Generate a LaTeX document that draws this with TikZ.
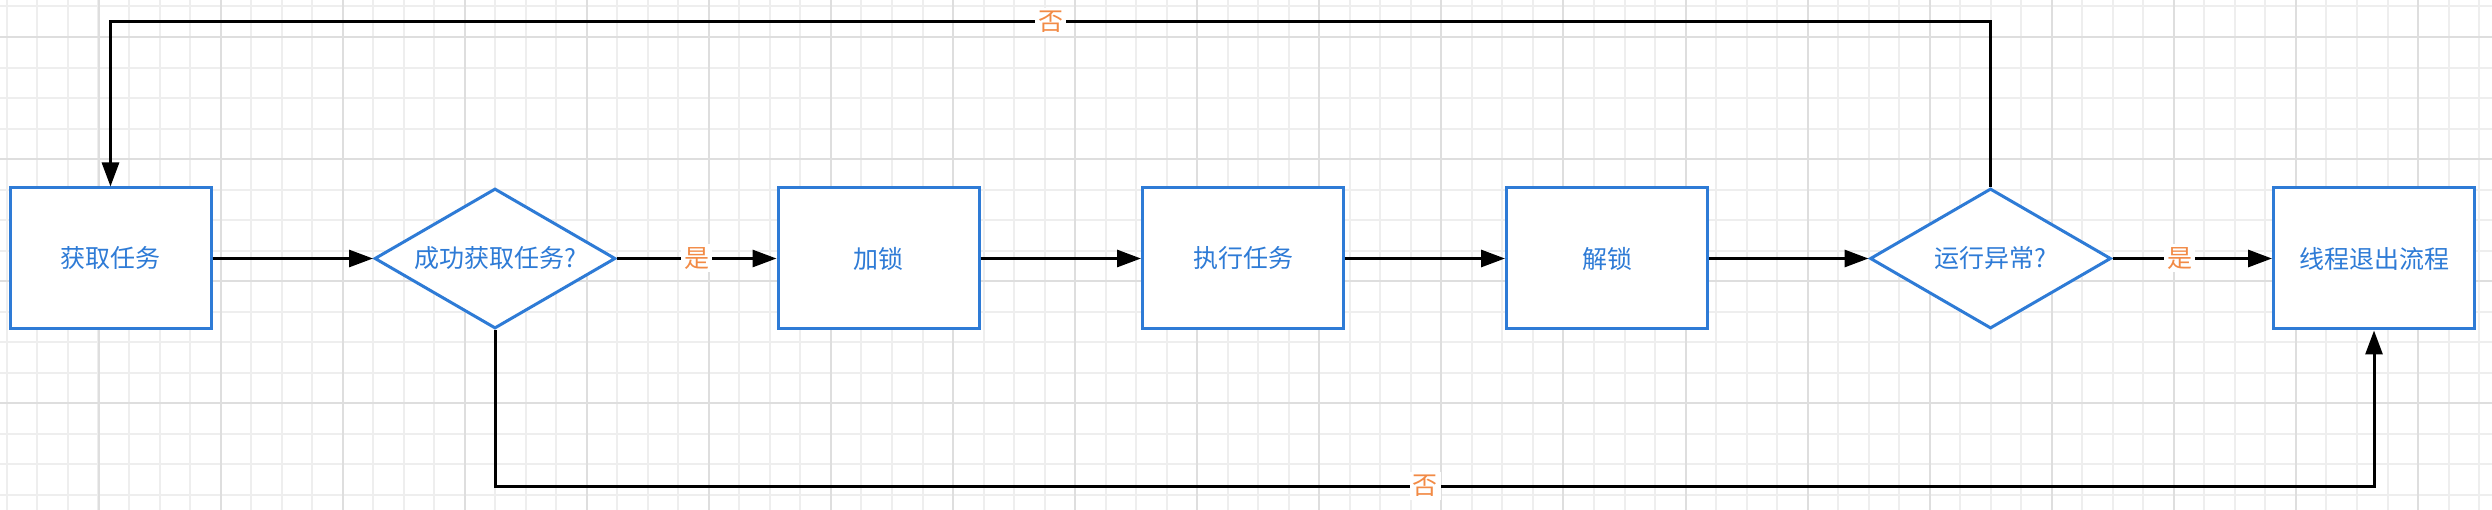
\documentclass[tikz,border=0pt]{standalone}
\usepackage{fontspec}
\setmainfont{Noto Sans CJK SC}
\usetikzlibrary{shapes.geometric,arrows.meta}
\definecolor{boxblue}{HTML}{2E7BD6}
\definecolor{lblorange}{HTML}{F28A45}
\definecolor{gridminor}{HTML}{EEEEEE}
\definecolor{gridmajor}{HTML}{DEDEDE}
\tikzset{
  proc/.style={draw=boxblue, line width=3pt, fill=white, rectangle,
    minimum width=201pt, minimum height=141pt, inner sep=0pt,
    text=boxblue, font=\fontsize{25}{30}\selectfont},
  decide/.style={draw=boxblue, line width=3pt, fill=white, diamond,
    minimum width=241pt, minimum height=140pt, inner sep=0pt,
    text=boxblue, font=\fontsize{25}{30}\selectfont},
  conn/.style={line width=3pt, black, -{Triangle[length=24pt,width=17pt]}},
  lbl/.style={fill=white, text=lblorange, inner sep=3pt,
    font=\fontsize{25}{30}\selectfont},
  gminor/.style={gridminor, line width=2pt},
  gmajor/.style={gridmajor, line width=2pt}
}
\begin{document}
\begin{tikzpicture}[x=1pt,y=-1pt]
\useasboundingbox (0,0) rectangle (2492,510);
\fill[white] (0,0) rectangle (2492,510);
% grid
\foreach \i in {0,...,83} {
  \draw[gminor] ({-23.6+30.52*\i},0) -- ({-23.6+30.52*\i},510);
}
\foreach \j in {-5,...,16} {
  \draw[gminor] (0,{37+30.52*\j}) -- (2492,{37+30.52*\j});
}
\foreach \i in {0,...,20} {
  \draw[gmajor] ({98.5+122.08*\i-122.08},0) -- ({98.5+122.08*\i-122.08},510);
}
\foreach \j in {0,...,4} {
  \draw[gmajor] (0,{37+122.08*\j}) -- (2492,{37+122.08*\j});
}
% nodes
\node[proc] (b1) at (110.5,258.5) {获取任务};
\node[decide] (d1) at (495,258.5) {\makebox[0pt]{成功获取任务?}};
\node[proc] (b2) at (878.5,258.5) {加锁};
\node[proc] (b3) at (1243,258.5) {执行任务};
\node[proc] (b4) at (1607,258.5) {解锁};
\node[decide] (d2) at (1990.5,258.5) {\makebox[0pt]{运行异常?}};
\node[proc] (b5) at (2374,258.5) {线程退出流程};
% helper coordinates
\coordinate (t1) at (1990.5,22);
\coordinate (t2) at (110.5,22);
\coordinate (u1) at (495,486);
\coordinate (u2) at (2374,486);
% connectors
\draw[conn] (b1.east) -- (d1.west);
\draw[conn] (d1.east) -- node[lbl] {是} (b2.west);
\draw[conn] (b2.east) -- (b3.west);
\draw[conn] (b3.east) -- (b4.west);
\draw[conn] (b4.east) -- (d2.west);
\draw[conn] (d2.east) -- node[lbl, pos=0.42] {是} (b5.west);
\draw[conn] (d2.north) -- (t1) -- node[lbl] {否} (t2) -- (b1.north);
\draw[conn] (d1.south) -- (u1) -- node[lbl, pos=0.495] {否} (u2) -- (b5.south);
\end{tikzpicture}
\end{document}
